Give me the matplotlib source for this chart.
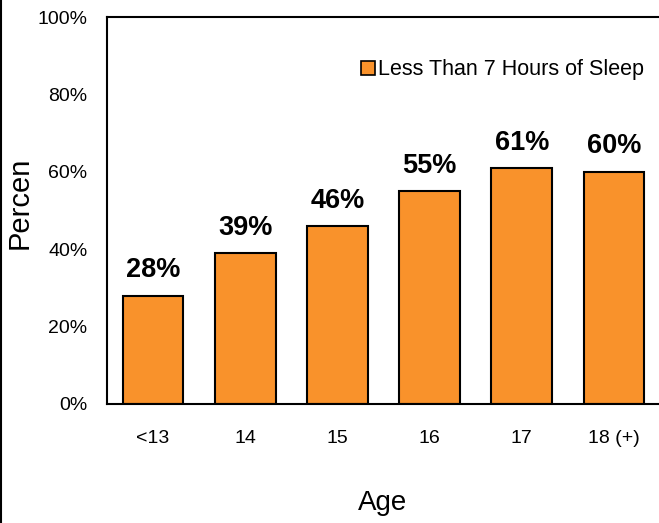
import matplotlib
matplotlib.use("Agg")
import matplotlib.pyplot as plt
from matplotlib.lines import Line2D
from matplotlib.patches import Patch

plt.rcParams['font.family'] = ['Liberation Sans', 'DejaVu Sans']

categories = ["<13", "14", "15", "16", "17", "18 (+)"]
values = [28, 39, 46, 55, 61, 60]
y_ticks = [0, 20, 40, 60, 80, 100]
y_tick_labels = ["0%", "20%", "40%", "60%", "80%", "100%"]
series_name = "Less Than 7 Hours of Sleep"

bar_color = "#F9922B"

fig = plt.figure(figsize=(6.59, 5.23), dpi=100)
W, H = 659, 523
ax = fig.add_axes([107 / W, 1 - 404 / H, (660 - 107) / W, (404 - 17) / H])

x = list(range(len(categories)))
ax.bar(x, values, width=0.66, color=bar_color, edgecolor="black", linewidth=1.5)

for xi, v in zip(x, values):
    ax.text(xi, v + 3.2, f"{v}%", ha="center", va="bottom",
            fontsize=19.5, fontweight="bold")

ax.set_xlim(-0.5, 5.5)
ax.set_ylim(0, 100)
ax.set_yticks(y_ticks)
ax.set_yticklabels(y_tick_labels)
ax.set_xticks(x)
ax.set_xticklabels(categories)
ax.tick_params(axis="y", length=0, pad=14, labelsize=14)
ax.tick_params(axis="x", length=0, pad=19, labelsize=14)

for s in ["left", "top", "bottom"]:
    ax.spines[s].set_linewidth(1.5)
ax.spines["right"].set_visible(False)

leg = ax.legend(handles=[Patch(facecolor=bar_color, edgecolor="black", linewidth=1.2, label=series_name)],
                loc="center left", bbox_to_anchor=(361 / W, 1 - 70 / H),
                bbox_transform=fig.transFigure, frameon=False, fontsize=15.5,
                handlelength=0.65, handleheight=0.65, handletextpad=0.15, borderpad=0, borderaxespad=0)

fig.text(383 / W, 1 - 503 / H, "Age", ha="center", va="center", fontsize=20)
fig.text(20 / W, 1 - 203 / H, "Percen", ha="center", va="center", rotation=90, fontsize=21)

fig.add_artist(Line2D([1 / W, 1 / W], [0, 1], transform=fig.transFigure, color="black", linewidth=1.5))

fig.savefig("out.png", dpi=100)
